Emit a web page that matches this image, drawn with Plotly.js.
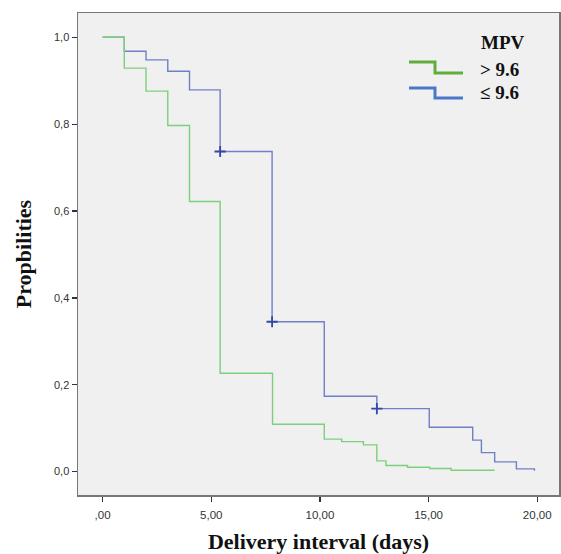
<!DOCTYPE html>
<html>
<head>
<meta charset="utf-8">
<script src="https://cdn.plot.ly/plotly-3.0.1.min.js"></script>
<style>html,body{margin:0;padding:0;background:#fff;}#chart{width:561px;height:554px;}</style>
</head>
<body>
<div id="chart"></div>
<script>
// Kaplan-Meier step data
const greenName = "> 9.6";
const greenTime = [0, 1, 2, 3, 4, 5.41, 7.82, 10.2, 11, 12, 12.62, 13.04, 14.03, 15.05, 16.04, 18.04];
const greenSurv = [1, 0.929, 0.876, 0.797, 0.622, 0.2265, 0.109, 0.0746, 0.069, 0.0615, 0.0246, 0.0138, 0.010, 0.007, 0.003, 0.003];

const blueName = "≤ 9.6";
const blueTime = [0, 1, 2, 3, 4, 5.41, 7.80, 10.2, 12.62, 15.03, 17.03, 17.43, 18.04, 19.04, 19.87];
const blueSurv = [1, 0.968, 0.948, 0.922, 0.879, 0.737, 0.345, 0.1735, 0.145, 0.102, 0.0723, 0.0437, 0.0223, 0.0062, 0.002];

const blueCensorTime = [5.41, 7.80, 12.62];
const blueCensorSurv = [0.737, 0.345, 0.145];

const xTickVals = [0, 5, 10, 15, 20];
const xTickText = [",00", "5,00", "10,00", "15,00", "20,00"];
const yTickVals = [0, 0.2, 0.4, 0.6, 0.8, 1.0];
const yTickText = ["0,0", "0,2", "0,4", "0,6", "0,8", "1,0"];

const legendTitle = "MPV";

const traces = [
  {x: blueTime, y: blueSurv, mode: "lines", line: {shape: "hv", color: "#6f80c6", width: 1.4}, showlegend: false, hoverinfo: "skip"},
  {x: greenTime, y: greenSurv, mode: "lines", line: {shape: "hv", color: "#7ccf7c", width: 1.4}, showlegend: false, hoverinfo: "skip"},
  {x: blueCensorTime, y: blueCensorSurv, mode: "markers", marker: {symbol: "cross-thin", size: 8, line: {color: "#3347a6", width: 1.8}}, showlegend: false, hoverinfo: "skip"}
];

// legend drawn in paper coordinates
function px(x){ return (x - 78) / 481; }
function py(y){ return (495 - y) / 482; }
const serif = "Liberation Serif, Times New Roman, serif";

const shapes = [
  {type: "path", xref: "paper", yref: "paper",
   path: `M ${px(409)} ${py(62)} L ${px(435)} ${py(62)} L ${px(435)} ${py(73)} L ${px(463)} ${py(73)}`,
   line: {color: "#5fae3c", width: 3}},
  {type: "path", xref: "paper", yref: "paper",
   path: `M ${px(409)} ${py(88)} L ${px(435)} ${py(88)} L ${px(435)} ${py(98)} L ${px(463)} ${py(98)}`,
   line: {color: "#4a78c8", width: 3}}
];
const annotations = [
  {xref: "paper", yref: "paper", x: px(479), y: py(42), xanchor: "left", yanchor: "middle", showarrow: false,
   text: "<b>" + legendTitle + "</b>", font: {family: serif, size: 19, color: "#111"}},
  {xref: "paper", yref: "paper", x: px(478), y: py(69), xanchor: "left", yanchor: "middle", showarrow: false,
   text: "<b>" + greenName + "</b>", font: {family: serif, size: 19, color: "#111"}},
  {xref: "paper", yref: "paper", x: px(478), y: py(93), xanchor: "left", yanchor: "middle", showarrow: false,
   text: "<b>" + blueName + "</b>", font: {family: serif, size: 19, color: "#111"}}
];

const layout = {
  width: 561, height: 554,
  margin: {l: 78, r: 2, t: 13, b: 59},
  paper_bgcolor: "#ffffff",
  plot_bgcolor: "#f0f0f0",
  showlegend: false,
  xaxis: {
    range: [-1.13, 21.0], tickvals: xTickVals, ticktext: xTickText,
    ticks: "outside", ticklen: 5, tickwidth: 1.3, tickcolor: "#333", ticklabelstandoff: 4,
    showgrid: false, zeroline: false, showline: true, mirror: true, linecolor: "#777", linewidth: 1.5,
    tickfont: {family: "Liberation Sans, Arial, sans-serif", size: 11.5, color: "#333"},
    title: {text: "<b>Delivery interval (days)</b>", font: {family: serif, size: 22, color: "#111"}, standoff: 20}
  },
  yaxis: {
    range: [-0.054, 1.056], tickvals: yTickVals, ticktext: yTickText,
    ticks: "outside", ticklen: 5, tickwidth: 1.3, tickcolor: "#333",
    showgrid: false, zeroline: false, showline: true, mirror: true, linecolor: "#777", linewidth: 1.5,
    tickfont: {family: "Liberation Sans, Arial, sans-serif", size: 11, color: "#333"},
    title: {text: "<b>Propbilities</b>", font: {family: serif, size: 22, color: "#111"}, standoff: 16}
  },
  shapes: shapes,
  annotations: annotations
};

Plotly.newPlot("chart", traces, layout, {displayModeBar: false, staticPlot: true});
</script>
</body>
</html>
